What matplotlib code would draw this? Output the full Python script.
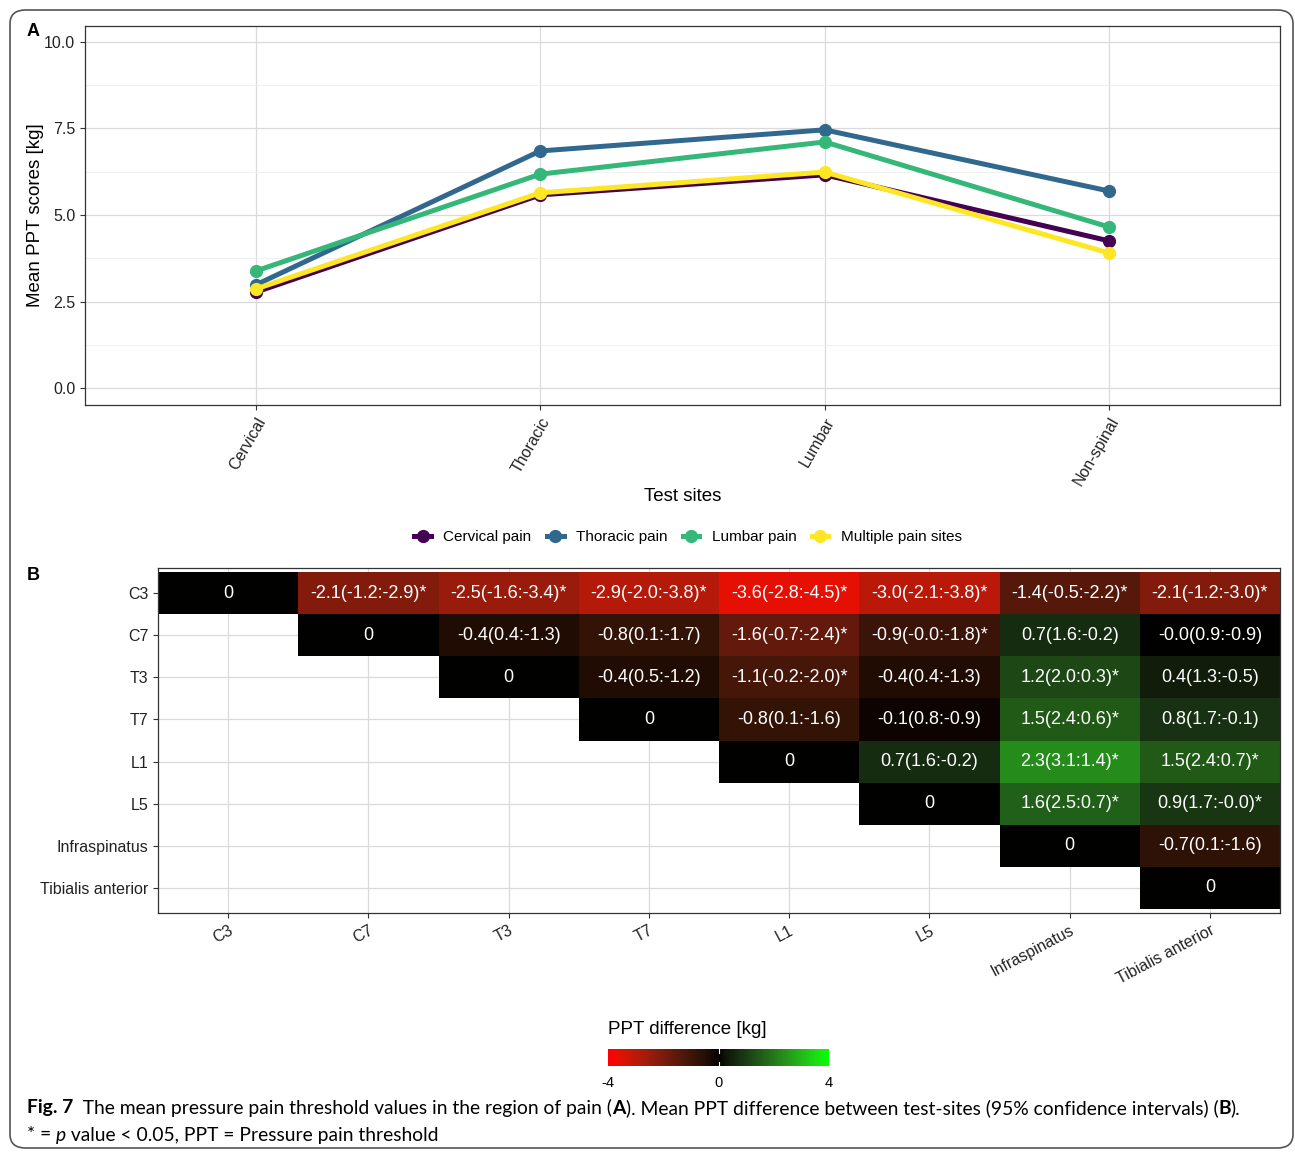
import numpy as np
import matplotlib.pyplot as plt
from matplotlib.colors import ListedColormap
from matplotlib.lines import Line2D
from matplotlib.patches import FancyBboxPatch

plt.rcParams['font.family'] = ['Liberation Sans', 'DejaVu Sans']
plt.rcParams['axes.unicode_minus'] = False

# panel A: mean PPT per test site and pain group
sites = ["Cervical", "Thoracic", "Lumbar", "Non-spinal"]
cervical_pain = [2.77, 5.58, 6.16, 4.25]
thoracic_pain = [2.98, 6.85, 7.46, 5.69]
lumbar_pain = [3.38, 6.18, 7.11, 4.65]
multiple_pain = [2.86, 5.64, 6.24, 3.90]
group_names = ["Cervical pain", "Thoracic pain", "Lumbar pain", "Multiple pain sites"]
group_colors = ["#440154", "#31688E", "#35B779", "#FDE725"]

# panel B: pairwise PPT differences (upper triangle, row site vs later sites)
test_points = ["C3", "C7", "T3", "T7", "L1", "L5", "Infraspinatus", "Tibialis anterior"]
diff_mean = [
    [-2.1, -2.5, -2.9, -3.6, -3.0, -1.4, -2.1],
    [-0.4, -0.8, -1.6, -0.9, 0.7, -0.0],
    [-0.4, -1.1, -0.4, 1.2, 0.4],
    [-0.8, -0.1, 1.5, 0.8],
    [0.7, 2.3, 1.5],
    [1.6, 0.9],
    [-0.7],
]
ci_first = [
    [-1.2, -1.6, -2.0, -2.8, -2.1, -0.5, -1.2],
    [0.4, 0.1, -0.7, -0.0, 1.6, 0.9],
    [0.5, -0.2, 0.4, 2.0, 1.3],
    [0.1, 0.8, 2.4, 1.7],
    [1.6, 3.1, 2.4],
    [2.5, 1.7],
    [0.1],
]
ci_second = [
    [-2.9, -3.4, -3.8, -4.5, -3.8, -2.2, -3.0],
    [-1.3, -1.7, -2.4, -1.8, -0.2, -0.9],
    [-1.2, -2.0, -1.3, 0.3, -0.5],
    [-1.6, -0.9, 0.6, -0.1],
    [-0.2, 1.4, 0.7],
    [0.7, -0.0],
    [-1.6],
]
significant = [
    [1, 1, 1, 1, 1, 1, 1],
    [0, 0, 1, 1, 0, 0],
    [0, 1, 0, 1, 0],
    [0, 0, 1, 0],
    [0, 1, 1],
    [1, 1],
    [0],
]
scale_ticks = [-4, 0, 4]

W, H = 1295, 1153
GRID_MAJOR = "#dadada"
GRID_MINOR = "#eeeeee"
EDGE = "#333333"


def srgb_to_lab(rgb):
    rgb = np.asarray(rgb, float)
    lin = np.where(rgb > 0.04045, ((rgb + 0.055) / 1.055) ** 2.4, rgb / 12.92)
    m = np.array([[0.4124, 0.3576, 0.1805],
                  [0.2126, 0.7152, 0.0722],
                  [0.0193, 0.1192, 0.9505]])
    xyz = m @ lin / np.array([0.95047, 1.0, 1.08883])
    d = 6 / 29
    f = np.where(xyz > d ** 3, np.cbrt(xyz), xyz / (3 * d * d) + 4 / 29)
    return np.array([116 * f[1] - 16, 500 * (f[0] - f[1]), 200 * (f[1] - f[2])])


def lab_to_srgb(lab):
    L, a, b = lab
    fy = (L + 16) / 116
    f = np.array([fy + a / 500, fy, fy - b / 200])
    d = 6 / 29
    xyz = np.where(f > d, f ** 3, 3 * d * d * (f - 4 / 29)) * np.array([0.95047, 1.0, 1.08883])
    m_inv = np.array([[3.2406, -1.5372, -0.4986],
                      [-0.9689, 1.8758, 0.0415],
                      [0.0557, -0.2040, 1.0570]])
    lin = np.clip(m_inv @ xyz, 0, 1)
    rgb = np.where(lin > 0.0031308, 1.055 * lin ** (1 / 2.4) - 0.055, 12.92 * lin)
    return np.clip(rgb, 0, 1)


# red - black - green, blended in Lab space like ggplot's gradient2
low, mid, high = srgb_to_lab([1, 0, 0]), srgb_to_lab([0, 0, 0]), srgb_to_lab([0, 1, 0])
cols = []
for t in np.linspace(0, 1, 256):
    if t < 0.5:
        lab = low + (mid - low) * (t / 0.5)
    else:
        lab = mid + (high - mid) * ((t - 0.5) / 0.5)
    cols.append(lab_to_srgb(lab))
ppt_cmap = ListedColormap(cols)

fig = plt.figure(figsize=(W / 100, H / 100), dpi=100)

# ---- panel A ----
axA = fig.add_axes([85 / W, 1 - 405 / H, (1280 - 85) / W, (405 - 26) / H])
xpos = np.arange(len(sites))
handles = []
for vals, name, col in zip([cervical_pain, thoracic_pain, lumbar_pain, multiple_pain],
                           group_names, group_colors):
    axA.plot(xpos, vals, color=col, lw=3.6, marker="o", markersize=8.5,
             solid_capstyle="butt", zorder=3)
    handles.append(Line2D([0], [0], color=col, lw=3.6, marker="o", markersize=8.5))

axA.set_xlim(-0.6, 3.6)
axA.set_ylim(-0.49, 10.46)
axA.set_yticks([0, 2.5, 5, 7.5, 10])
axA.set_yticklabels(["0.0", "2.5", "5.0", "7.5", "10.0"])
axA.set_yticks([1.25, 3.75, 6.25, 8.75], minor=True)
axA.set_xticks(xpos)
axA.set_xticklabels(sites, rotation=60, ha="right", va="top", rotation_mode="anchor")
axA.grid(which="major", color=GRID_MAJOR, lw=0.9)
axA.grid(which="minor", axis="y", color=GRID_MINOR, lw=0.6)
axA.set_axisbelow(True)
axA.tick_params(which="major", length=3.5, width=0.8, color=EDGE, labelsize=11.5, labelcolor="#222222")
axA.tick_params(which="minor", length=0)
for sp in axA.spines.values():
    sp.set_color(EDGE)
    sp.set_linewidth(0.9)
axA.set_xlabel("Test sites", fontsize=13.5, labelpad=0)
axA.set_ylabel("Mean PPT scores [kg]", fontsize=13.5)
axA.yaxis.set_label_coords(-0.0343, 0.5)

fig.legend(handles, group_names, loc="center", bbox_to_anchor=(688 / W, 1 - 537 / H),
           ncol=4, frameon=False, fontsize=11, handlelength=1.1,
           handletextpad=0.8, columnspacing=1.0)

# ---- panel B ----
n = len(test_points)
grid = np.full((n, n), np.nan)
labels = {}
for i in range(n):
    grid[i, i] = 0
    labels[(i, i)] = "0"
    for k, m in enumerate(diff_mean[i] if i < len(diff_mean) else []):
        j = i + 1 + k
        grid[i, j] = m
        txt = f"{m:.1f}({ci_first[i][k]:.1f}:{ci_second[i][k]:.1f})"
        if significant[i][k]:
            txt += "*"
        labels[(i, j)] = txt

axB = fig.add_axes([158 / W, 1 - 913 / H, (1280 - 158) / W, (913 - 568) / H])
edges = np.arange(n + 1) - 0.5
mesh = axB.pcolormesh(edges, edges, np.ma.masked_invalid(grid), cmap=ppt_cmap,
                      vmin=-4, vmax=4, zorder=2)
for (i, j), txt in labels.items():
    axB.text(j, i, txt, color="white", fontsize=13, ha="center", va="center", zorder=3)

axB.set_xlim(-0.5, n - 0.5)
axB.set_ylim(n - 0.4, -0.6)
axB.set_xticks(range(n))
axB.set_yticks(range(n))
axB.set_xticklabels(test_points, rotation=28, ha="right", va="top", rotation_mode="anchor")
axB.set_yticklabels(test_points)
axB.grid(color=GRID_MAJOR, lw=0.9, zorder=0)
axB.set_axisbelow(True)
axB.tick_params(length=3.5, width=0.8, color=EDGE, labelsize=11.5, labelcolor="#222222")
for sp in axB.spines.values():
    sp.set_color(EDGE)
    sp.set_linewidth(0.9)
    sp.set_zorder(4)

# colour bar, with small white marks at zero only
cax = fig.add_axes([608 / W, 1 - 1066 / H, 221 / W, 17 / H])
cbar = fig.colorbar(mesh, cax=cax, orientation="horizontal", ticks=scale_ticks)
cbar.outline.set_visible(False)
cax.tick_params(length=0, labelsize=10.5, pad=7)
cax.axvline(0, ymin=0, ymax=0.22, color="white", lw=0.8)
cax.axvline(0, ymin=0.78, ymax=1, color="white", lw=0.8)
fig.text(608 / W, 1 - 1030 / H, "PPT difference [kg]", fontsize=13.5, va="center")

# panel letters
fig.text(27 / W, 1 - 32 / H, "A", fontsize=13, fontweight="bold", va="center")
fig.text(27 / W, 1 - 575 / H, "B", fontsize=13, fontweight="bold", va="center")

# caption, written piece by piece so bold parts sit inline
cap_font = ["Lato", "DejaVu Sans"]
renderer = fig.canvas.get_renderer()

cap_line1 = [
    ("Fig. 7", dict(fontweight="bold")),
    ("  The mean pressure pain threshold values in the region of pain (", {}),
    ("A", dict(fontweight="bold")),
    ("). Mean PPT difference between test-sites (95% confidence intervals) (", {}),
    ("B", dict(fontweight="bold")),
    (").", {}),
]
cap_line2 = [
    ("* = ", {}),
    ("p", dict(style="italic")),
    (" value < 0.05, PPT = Pressure pain threshold", {}),
]


def draw_runs(x, y, runs, size):
    placed = []
    for s, kw in runs:
        t = fig.text(x, y, s, fontsize=size, family=cap_font, va="center", **kw)
        x += t.get_window_extent(renderer).width / W
        placed.append(t)
    return placed, x


# size the caption so the first line runs across the frame
probe, right = draw_runs(27 / W, 1 - 1108 / H, cap_line1, 14)
for t in probe:
    t.remove()
cap_size = 14 * (1219 / W) / (right - 27 / W)
draw_runs(27 / W, 1 - 1108 / H, cap_line1, cap_size)
draw_runs(27 / W, 1 - 1135 / H, cap_line2, cap_size)

# rounded frame around the figure
frame = FancyBboxPatch((10 / W, 5 / H), 1283 / W, 1138 / H,
                       boxstyle="round,pad=0,rounding_size=0.012",
                       transform=fig.transFigure, fill=False,
                       edgecolor="#555555", lw=1.2)
fig.patches.append(frame)

fig.savefig("out.png", dpi=100)
